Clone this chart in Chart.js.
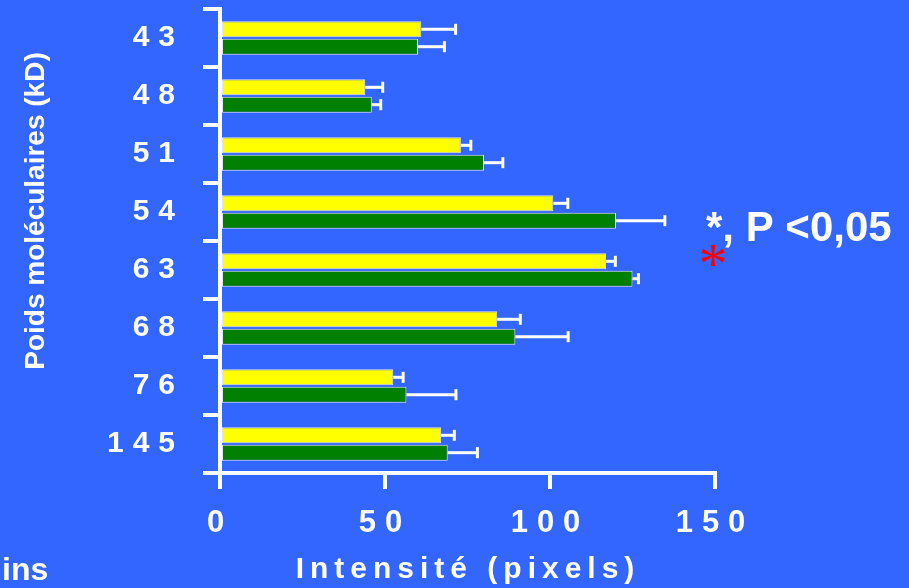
<!DOCTYPE html>
<html>
<head>
<meta charset="utf-8">
<script src="https://cdn.jsdelivr.net/npm/chart.js@4/dist/chart.umd.min.js"></script>
<style>
  html, body { margin: 0; padding: 0; background: #3366ff; }
  #wrap { width: 909px; height: 588px; position: relative; }
</style>
</head>
<body>
<div id="wrap"><canvas id="chart" width="909" height="588"></canvas></div>
<script>
// Molecular weight bands (kD)
const categories = ['43', '48', '51', '54', '63', '68', '76', '145'];
// Mean intensity per band, two groups
const yellowValues = [61, 44, 73, 101, 117, 84, 52.5, 67];
const yellowErrors = [10.4, 5.3, 3, 4.4, 2.8, 7, 3, 4];
const greenValues  = [60, 46, 80, 120, 125, 89.5, 56.5, 69];
const greenErrors  = [8, 2.7, 5.7, 14.8, 1.8, 16, 15, 9];
// x axis ticks
const xTicks = [0, 50, 100, 150];

const FONT = "'Liberation Sans', Arial, Helvetica, sans-serif";
const WHITE = '#ffffff';

// one-sided error bars with an end cap
const errorBars = {
  id: 'errorBars',
  afterDatasetsDraw(chart) {
    const ctx = chart.ctx;
    const xs = chart.scales.x;
    const errs = [yellowErrors, greenErrors];
    const vals = [yellowValues, greenValues];
    ctx.save();
    ctx.strokeStyle = WHITE;
    ctx.lineWidth = 3;
    chart.data.datasets.forEach((ds, i) => {
      const meta = chart.getDatasetMeta(i);
      meta.data.forEach((bar, j) => {
        const x0 = bar.x;
        const x1 = xs.getPixelForValue(vals[i][j] + errs[i][j]);
        const y = bar.y;
        ctx.beginPath();
        ctx.moveTo(x0, y);
        ctx.lineTo(x1, y);
        ctx.stroke();
        ctx.beginPath();
        ctx.moveTo(x1, y - 5.5);
        ctx.lineTo(x1, y + 5.5);
        ctx.stroke();
      });
    });
    ctx.restore();
  }
};

// spaced tick lettering
const spacing = {
  id: 'spacing',
  beforeDraw(chart) { chart.ctx.letterSpacing = '9px'; },
  afterDatasetsDraw(chart) { chart.ctx.letterSpacing = '0px'; }
};

// titles and annotation
const texts = {
  id: 'texts',
  afterDraw(chart) {
    const ctx = chart.ctx;
    ctx.save();
    ctx.fillStyle = WHITE;

    // y axis title
    ctx.save();
    ctx.translate(36, 211);
    ctx.rotate(-Math.PI / 2);
    ctx.font = 'bold 28px ' + FONT;
    ctx.textAlign = 'center';
    ctx.textBaseline = 'middle';
    ctx.fillText('Poids moléculaires (kD)', 0, 0);
    ctx.restore();

    // x axis title
    ctx.font = 'bold 30px ' + FONT;
    ctx.letterSpacing = '6px';
    ctx.textAlign = 'center';
    ctx.textBaseline = 'alphabetic';
    ctx.fillText('Intensité (pixels)', 468, 578);
    ctx.letterSpacing = '0px';

    // significance note
    ctx.font = 'bold 42px ' + FONT;
    ctx.textAlign = 'left';
    ctx.fillText('*, P <0,05', 706, 241);

    ctx.fillStyle = '#ff0000';
    ctx.font = '58px "Liberation Serif", "Times New Roman", serif';
    ctx.textAlign = 'center';
    ctx.fillText('*', 713, 283);

    // partial caption at lower left
    ctx.fillStyle = WHITE;
    ctx.font = 'bold 32px ' + FONT;
    ctx.textAlign = 'left';
    ctx.fillText('ins', 2, 580);
    ctx.restore();
  }
};

function noEdgePadding(scale) {
  scale.paddingTop = 0;
  scale.paddingBottom = 0;
  scale.paddingLeft = 0;
  scale.paddingRight = 0;
}

new Chart(document.getElementById('chart'), {
  type: 'bar',
  data: {
    labels: categories,
    datasets: [
      {
        data: yellowValues,
        backgroundColor: '#ffff00',
        borderColor: '#e4e4e4',
        borderWidth: 1,
        borderSkipped: false,
        categoryPercentage: 0.6,
        barPercentage: 0.92
      },
      {
        data: greenValues,
        backgroundColor: '#008000',
        borderColor: '#e4e4e4',
        borderWidth: 1,
        borderSkipped: false,
        categoryPercentage: 0.6,
        barPercentage: 0.92
      }
    ]
  },
  options: {
    indexAxis: 'y',
    responsive: false,
    animation: false,
    devicePixelRatio: 1,
    layout: { padding: { top: 9, right: 194, left: 0, bottom: 0 } },
    plugins: { legend: { display: false }, tooltip: { enabled: false } },
    scales: {
      x: {
        type: 'linear',
        min: xTicks[0],
        max: xTicks[xTicks.length - 1],
        afterBuildTicks(scale) { scale.ticks = xTicks.map(v => ({ value: v })); },
        afterFit(scale) { scale.height = 115; noEdgePadding(scale); },
        ticks: {
          color: WHITE,
          font: { family: FONT, size: 31, weight: 'bold' },
          padding: 16,
          maxRotation: 0
        },
        grid: { drawOnChartArea: false, color: WHITE, lineWidth: 4, tickLength: 16, z: 1 },
        border: { color: WHITE, width: 4, z: 1 }
      },
      y: {
        afterFit(scale) { scale.width = 220; noEdgePadding(scale); },
        ticks: {
          color: WHITE,
          font: { family: FONT, size: 30, weight: 'bold' },
          padding: 19
        },
        grid: { drawOnChartArea: false, color: WHITE, lineWidth: 4, tickLength: 17, offset: true, z: 1 },
        border: { color: WHITE, width: 4, z: 1 }
      }
    }
  },
  plugins: [spacing, errorBars, texts]
});
</script>
</body>
</html>
